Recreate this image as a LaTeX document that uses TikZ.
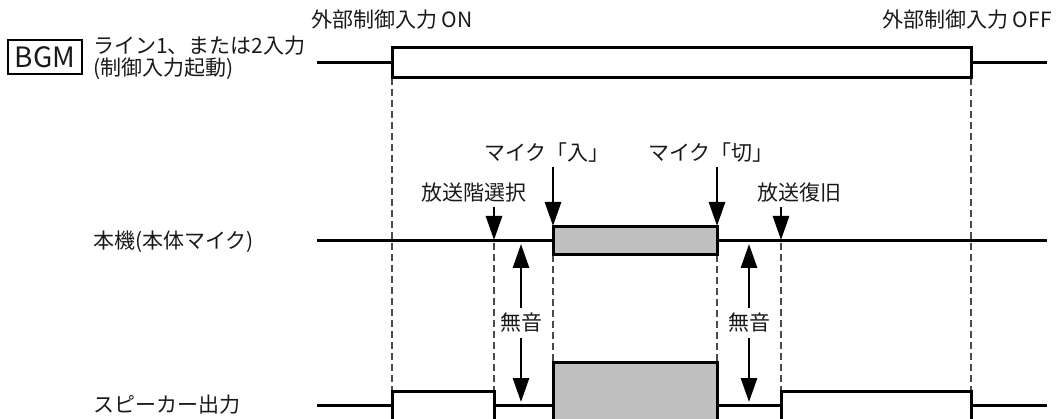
\documentclass[tikz,border=0pt]{standalone}
\usepackage{fontspec}
\newfontfamily\jpfont{Noto Sans CJK JP}
\usetikzlibrary{arrows.meta}
\definecolor{micGray}{HTML}{C0C0C0}
\definecolor{guideGray}{HTML}{4A4A4A}

\begin{document}
\begin{tikzpicture}[x=1pt,y=-1pt,
    lbl/.style={font=\jpfont\fontsize{21}{22}\selectfont, inner sep=0pt, text=black!90},
    sig/.style={line width=3pt},
    guide/.style={guideGray, line width=1.4pt, dash pattern=on 7pt off 4pt},
    cue/.style={line width=2.8pt, -{Triangle[length=24pt,width=16pt]}}]
    \useasboundingbox (0,0) rectangle (1064,419);

    % Hilfslinien (gestrichelt)
    \draw[guide] (392,78) -- (392,391);
    \draw[guide] (971,78) -- (971,391);
    \draw[guide] (494,243) -- (494,391);
    \draw[guide] (553,255) -- (553,362);
    \draw[guide] (717,255) -- (717,362);
    \draw[guide] (781,243) -- (781,391);

    % BGM
    \node[lbl, draw, line width=2.6pt, minimum width=74pt, minimum height=34pt,
          font=\jpfont\fontsize{28}{28}\selectfont] (bgm) at (45,57) {BGM};
    \node[lbl, anchor=west, align=left] (bgmLbl) at (93,58) {ライン1、または2入力\\(制御入力起動)};
    \draw[sig] (317,63) -- (392,63);
    \draw[sig] (392,48) rectangle (971,78);
    \draw[sig] (971,63) -- (1047,63);
    \node[lbl] (onLbl) at (392,20) {外部制御入力 ON};
    \node[lbl] (offLbl) at (967,20) {外部制御入力 OFF};

    % Mikrofon
    \node[lbl, anchor=west] (micLbl) at (93,242) {本機(本体マイク)};
    \draw[sig] (317,241) -- (553,241);
    \draw[sig, fill=micGray] (553,227) rectangle (717,255);
    \draw[sig] (717,241) -- (1047,241);

    % Lautsprecher
    \node[lbl, anchor=west] (spkLbl) at (93,405) {スピーカー出力};
    \draw[sig] (317,405) -- (392,405);
    \draw[sig] (392,391) rectangle (494,420);
    \draw[sig] (494,405) -- (553,405);
    \draw[sig, fill=micGray] (553,362) rectangle (717,420);
    \draw[sig] (717,405) -- (781,405);
    \draw[sig] (781,391) rectangle (971,420);
    \draw[sig] (971,405) -- (1047,405);

    % Ereignisse
    \node[lbl] (selLbl) at (474,193) {放送階選択};
    \node[lbl] (onMic) at (547,153) {マイク「入」};
    \node[lbl] (offMic) at (711,153) {マイク「切」};
    \node[lbl] (backLbl) at (799,193) {放送復旧};
    \coordinate (selTop) at (494,207);  \coordinate (selTip) at (494,240);
    \coordinate (onTop) at (553,167);   \coordinate (onTip) at (553,226);
    \coordinate (offTop) at (717,167);  \coordinate (offTip) at (717,226);
    \coordinate (backTop) at (781,207); \coordinate (backTip) at (781,240);
    \draw[cue] (selTop) -- (selTip);
    \draw[cue] (onTop) -- (onTip);
    \draw[cue] (offTop) -- (offTip);
    \draw[cue] (backTop) -- (backTip);

    % Pfeile (stumm)
    \node[lbl, inner sep=5pt] (mute1) at (521,323) {無音};
    \node[lbl, inner sep=5pt] (mute2) at (749,323) {無音};
    \coordinate (mute1Up) at (521,244); \coordinate (mute1Dn) at (521,402);
    \coordinate (mute2Up) at (749,244); \coordinate (mute2Dn) at (749,402);
    \draw[cue] (mute1) -- (mute1Up);
    \draw[cue] (mute1) -- (mute1Dn);
    \draw[cue] (mute2) -- (mute2Up);
    \draw[cue] (mute2) -- (mute2Dn);
\end{tikzpicture}
\end{document}
